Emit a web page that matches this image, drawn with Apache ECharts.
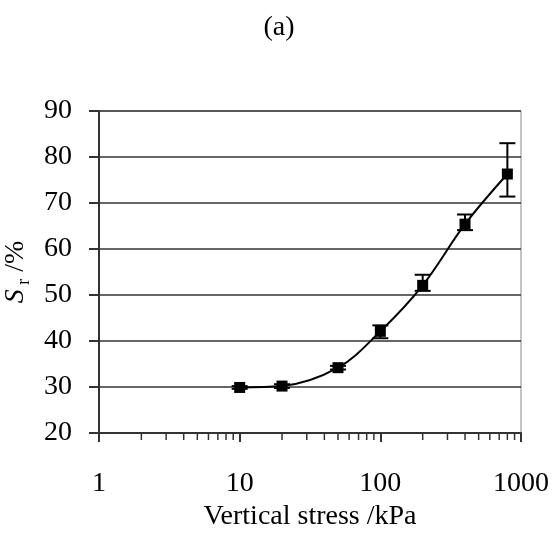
<!DOCTYPE html>
<html>
<head>
<meta charset="utf-8">
<script src="https://cdn.jsdelivr.net/npm/echarts@6/dist/echarts.min.js"></script>
<style>
  html, body { margin: 0; padding: 0; background: #fff; }
  #chart { width: 558px; height: 539px; }
</style>
</head>
<body>
<div id="chart"></div>
<script>
// vertical stress (kPa) and degree of saturation Sr (%)
const stress = [10, 20, 50, 100, 200, 400, 800];
const sr = [29.9, 30.2, 34.2, 42.1, 52.1, 65.4, 76.3];
const srLow = [29.6, 29.8, 33.8, 40.6, 50.9, 64.1, 71.4];
const srHigh = [30.2, 30.6, 34.6, 43.4, 54.4, 67.5, 83.0];
// minor ticks of the log axis
const minorTicks = [2, 3, 4, 5, 6, 7, 8, 9, 20, 30, 40, 50, 60, 70, 80, 90, 200, 300, 400, 500, 600, 700, 800, 900];

const font = "Liberation Serif";

const chart = echarts.init(document.getElementById("chart"));

const option = {
  animation: false,
  title: {
    text: "(a)",
    left: "center",
    top: 9,
    textStyle: { fontFamily: font, fontSize: 28, fontWeight: "normal", color: "#000" },
  },
  grid: {
    left: 99,
    right: 37,
    top: 111,
    bottom: 106,
    containLabel: false,
    outerBoundsMode: "none",
    show: true,
    borderColor: "#888",
    borderWidth: 1,
  },
  xAxis: {
    type: "log",
    logBase: 10,
    min: 1,
    max: 1000,
    name: "Vertical stress /kPa",
    nameLocation: "middle",
    nameGap: 67,
    nameTextStyle: { fontFamily: font, fontSize: 28, color: "#000" },
    axisLine: { lineStyle: { color: "#333", width: 2 } },
    axisTick: { show: true, inside: false, length: 9, lineStyle: { color: "#333", width: 2 } },
    axisLabel: {
      fontFamily: font,
      fontSize: 28,
      color: "#000",
      margin: 37,
      formatter: (v) => String(v),
    },
    splitLine: { show: false },
  },
  yAxis: {
    type: "value",
    min: 20,
    max: 90,
    interval: 10,
    name: "{i|S}{sub| r} /%",
    nameLocation: "middle",
    nameRotate: 90,
    nameGap: 54,
    nameTextStyle: {
      fontFamily: font,
      fontSize: 28,
      color: "#000",
      rich: {
        i: { fontFamily: font, fontSize: 28, fontStyle: "italic", color: "#000", lineHeight: 34 },
        sub: { fontFamily: font, fontSize: 18, color: "#000", verticalAlign: "bottom", lineHeight: 34 },
      },
    },
    axisLine: { show: true, lineStyle: { color: "#333", width: 2 } },
    axisTick: { show: true, inside: false, length: 10, lineStyle: { color: "#333", width: 2 } },
    axisLabel: { fontFamily: font, fontSize: 28, color: "#000", margin: 27 },
    splitLine: { show: true, lineStyle: { color: "#333", width: 1.5 } },
  },
  series: [
    {
      type: "custom",
      silent: true,
      data: minorTicks.map((v) => [v, 20]),
      clip: false,
      renderItem: function (params, api) {
        const p = api.coord([api.value(0), 20]);
        return {
          type: "line",
          shape: { x1: p[0], y1: p[1], x2: p[0], y2: p[1] + 7 },
          style: { stroke: "#333", lineWidth: 1.5 },
        };
      },
      z: 1,
    },
    {
      type: "line",
      data: stress.map((x, i) => [x, sr[i]]),
      smooth: 0.35,
      symbol: "rect",
      symbolSize: 11,
      lineStyle: { color: "#000", width: 2 },
      itemStyle: { color: "#000" },
      z: 3,
    },
    {
      type: "custom",
      data: stress.map((x, i) => [x, srLow[i], srHigh[i]]),
      renderItem: function (params, api) {
        const lo = api.coord([api.value(0), api.value(1)]);
        const hi = api.coord([api.value(0), api.value(2)]);
        const w = 8;
        const st = { stroke: "#000", lineWidth: 2 };
        return {
          type: "group",
          children: [
            { type: "line", shape: { x1: lo[0], y1: lo[1], x2: hi[0], y2: hi[1] }, style: st },
            { type: "line", shape: { x1: lo[0] - w, y1: lo[1], x2: lo[0] + w, y2: lo[1] }, style: st },
            { type: "line", shape: { x1: hi[0] - w, y1: hi[1], x2: hi[0] + w, y2: hi[1] }, style: st },
          ],
        };
      },
      z: 4,
    },
  ],
};

chart.setOption(option);
</script>
</body>
</html>
